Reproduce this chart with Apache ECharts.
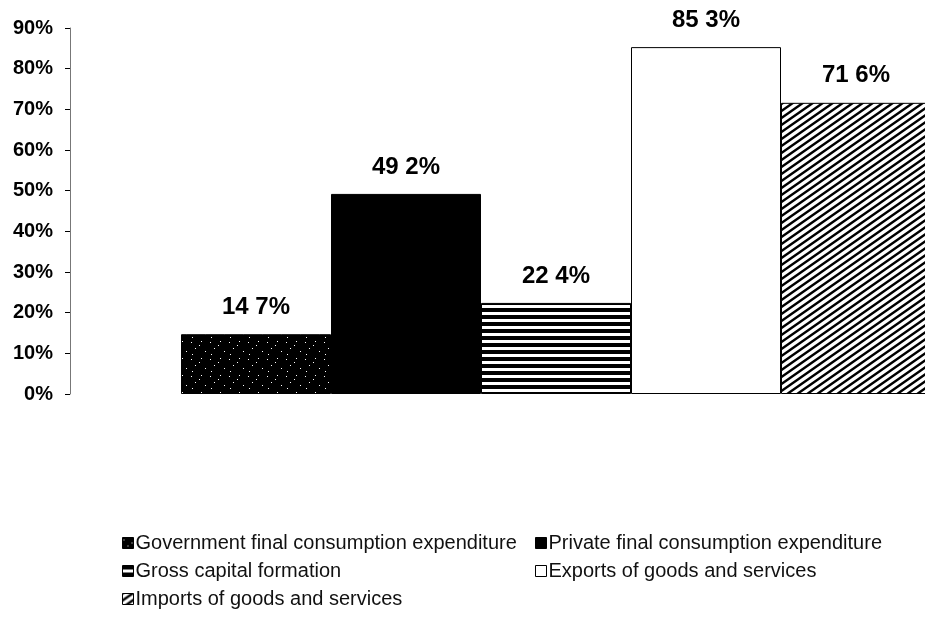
<!DOCTYPE html>
<html><head><meta charset="utf-8">
<script src="https://cdn.jsdelivr.net/npm/echarts@6/dist/echarts.min.js"></script>
<style>html,body{margin:0;padding:0;background:#fff}#c{width:925px;height:619px}</style>
</head><body><div id="c"></div>
<script>
const seriesNames = ['Government final consumption expenditure','Private final consumption expenditure','Gross capital formation','Exports of goods and services','Imports of goods and services'];
const seriesValues = [14.7, 49.2, 22.4, 85.3, 71.6];
const categories = [''];
const yTicks = {min: 0, max: 90, interval: 10};

function mk(w, h, draw) {
  const c = document.createElement('canvas'); c.width = w; c.height = h;
  const g = c.getContext('2d'); draw(g, w, h); return c;
}
const speckle = mk(19, 17, (g, w, h) => {
  g.fillStyle = '#000'; g.fillRect(0, 0, w, h);
  g.fillStyle = '#fff';
  [[1,2],[11,1],[5,8],[15,11],[2,14],[9,5]].forEach(p => g.fillRect(p[0], p[1], 1, 1));
});
const hstripe = mk(4, 7, (g, w, h) => {
  g.fillStyle = '#fff'; g.fillRect(0, 0, w, h);
  g.fillStyle = '#000'; g.fillRect(0, 0, w, 4);
});
const diag = mk(10, 7, (g, w, h) => {
  g.fillStyle = '#fff'; g.fillRect(0, 0, w, h);
  g.strokeStyle = '#000'; g.lineWidth = 2.4;
  g.beginPath();
  for (let k = -1; k <= 1; k++) {
    g.moveTo(-10, 14 + k * 7); g.lineTo(20, -7 + k * 7);
  }
  g.stroke();
});
const fills = [
  {image: speckle, repeat: 'repeat'},
  '#000',
  {image: hstripe, repeat: 'repeat'},
  '#fff',
  {image: diag, repeat: 'repeat'}
];

const FONT = '"Liberation Sans", Arial, sans-serif';
const legendPos = [[117, 528], [530, 528], [117, 556], [530, 556], [117, 584]];

const chart = echarts.init(document.getElementById('c'), null, {renderer: 'canvas'});
chart.setOption({
  animation: false,
  backgroundColor: '#fff',
  grid: {left: 70, width: 972, top: 28, bottom: 225, outerBoundsMode: 'none', containLabel: false},
  xAxis: {type: 'category', data: categories, axisLine: {show: false}, axisTick: {show: false}, axisLabel: {show: false}},
  yAxis: {
    type: 'value', min: yTicks.min, max: yTicks.max, interval: yTicks.interval,
    splitLine: {show: false},
    axisLine: {show: true, lineStyle: {color: '#777', width: 1}},
    axisTick: {show: true, length: 5, lineStyle: {color: '#000'}},
    axisLabel: {formatter: '{value}%', fontFamily: FONT, fontWeight: 'bold', fontSize: 20, color: '#000', margin: 17}
  },
  legend: seriesNames.map((n, i) => ({
    data: [n], left: legendPos[i][0], top: legendPos[i][1], orient: 'horizontal',
    icon: 'rect', itemWidth: 11, itemHeight: 11, itemGap: 4,
    textStyle: {fontFamily: FONT, fontSize: 20, color: '#111', padding: [0, 0, 0, -3]},
    itemStyle: {borderColor: '#000', borderWidth: 1}
  })),
  series: seriesNames.map((n, i) => ({
    name: n, type: 'bar', data: [seriesValues[i]],
    barWidth: 150, barGap: '0%',
    itemStyle: {color: fills[i], borderColor: '#000', borderWidth: 1},
    label: {
      show: true, position: 'top', distance: 15,
      fontFamily: FONT, fontWeight: 'bold', fontSize: 24, color: '#000',
      formatter: p => p.value.toFixed(1).replace('.', ' ') + '%'
    }
  }))
});
</script></body></html>
